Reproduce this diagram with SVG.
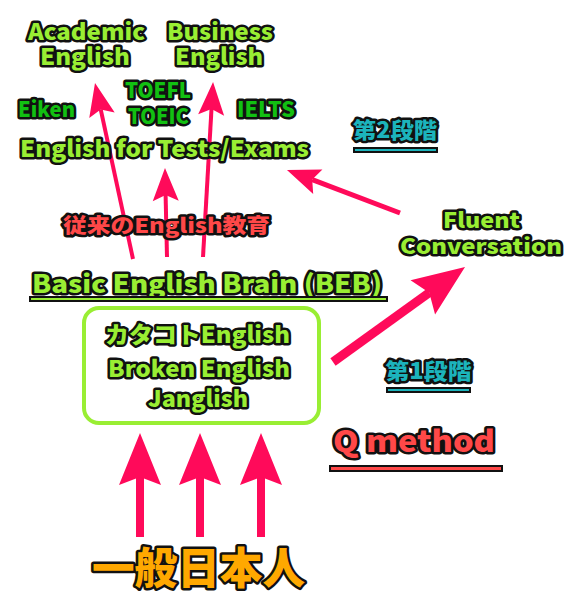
<svg xmlns="http://www.w3.org/2000/svg" width="573" height="599" viewBox="0 0 573 599">
<style>
.t{font-family:"Noto Sans CJK JP","Noto Sans",sans-serif;font-weight:900;stroke:#111;stroke-width:5;stroke-linejoin:round;paint-order:stroke;text-anchor:middle}
.lime{fill:#99ee33}
.dg{fill:#12c012}
.red{fill:#ff4848}
.teal{fill:#1cb4bc}
.orange{fill:#ffa800}
.arr{stroke:#ff0a5a;fill:none;stroke-linecap:butt}
</style>
<defs>
<marker id="hs" markerUnits="userSpaceOnUse" orient="auto" refX="0" refY="0" markerWidth="40" markerHeight="30" overflow="visible">
<path d="M-6,-13 L27,0 L-6,13 L0,0 Z" fill="#ff0a5a"/>
</marker>
<marker id="hl" markerUnits="userSpaceOnUse" orient="auto" refX="0" refY="0" markerWidth="60" markerHeight="50" overflow="visible">
<path d="M-8,-21 L44,0 L-8,21 L0,0 Z" fill="#ff0a5a"/>
</marker>
</defs>
<rect width="573" height="599" fill="#ffffff"/>

<g id="connectors">
<line class="arr" x1="133" y1="259" x2="100.7" y2="109.4" stroke-width="4" marker-end="url(#hs)"/>
<line class="arr" x1="167" y1="257" x2="165.6" y2="195" stroke-width="4" marker-end="url(#hs)"/>
<line class="arr" x1="203" y1="257" x2="211.5" y2="108.9" stroke-width="4" marker-end="url(#hs)"/>
<line class="arr" x1="400" y1="213" x2="312.2" y2="179.6" stroke-width="5" marker-end="url(#hs)"/>
<line class="arr" x1="333" y1="362" x2="429.3" y2="292.7" stroke-width="9" marker-end="url(#hl)"/>
<line class="arr" x1="140" y1="537" x2="140" y2="477" stroke-width="8" marker-end="url(#hl)"/>
<line class="arr" x1="200" y1="537" x2="200" y2="477" stroke-width="8" marker-end="url(#hl)"/>
<line class="arr" x1="261" y1="537" x2="261" y2="477" stroke-width="8" marker-end="url(#hl)"/>
</g>

<g id="academic">
<text class="t lime" x="86.5" y="40" font-size="23" textLength="117" lengthAdjust="spacingAndGlyphs">Academic</text>
<text class="t lime" x="85" y="65" font-size="23" textLength="90" lengthAdjust="spacingAndGlyphs">English</text>
</g>
<g id="business">
<text class="t lime" x="220" y="40" font-size="23" textLength="106" lengthAdjust="spacingAndGlyphs">Business</text>
<text class="t lime" x="219" y="65" font-size="23" textLength="88" lengthAdjust="spacingAndGlyphs">English</text>
</g>
<g id="toefl-toeic">
<text class="t dg" x="158" y="98" font-size="21" textLength="66" lengthAdjust="spacingAndGlyphs">TOEFL</text>
<text class="t dg" x="158.5" y="124" font-size="21" textLength="61" lengthAdjust="spacingAndGlyphs">TOEIC</text>
</g>
<g id="eiken">
<text class="t dg" x="46.5" y="117" font-size="21" textLength="57" lengthAdjust="spacingAndGlyphs">Eiken</text>
</g>
<g id="ielts">
<text class="t dg" x="266" y="117" font-size="21" textLength="58" lengthAdjust="spacingAndGlyphs">IELTS</text>
</g>
<g id="tests">
<text class="t lime" x="164.5" y="157" font-size="23" textLength="289" lengthAdjust="spacingAndGlyphs">English for Tests/Exams</text>
</g>
<g id="stage2">
<text class="t teal" x="395" y="138" font-size="22" textLength="84" lengthAdjust="spacingAndGlyphs">第2段階</text>
<rect x="354" y="148" width="83" height="4" fill="#1cb4bc" stroke="#111" stroke-width="2"/>
</g>
<g id="fluent">
<text class="t lime" x="481.5" y="228" font-size="21" textLength="77" lengthAdjust="spacingAndGlyphs">Fluent</text>
<text class="t lime" x="481" y="254" font-size="21" textLength="162" lengthAdjust="spacingAndGlyphs">Conversation</text>
</g>
<g id="traditional">
<text class="t red" x="166.5" y="233" font-size="20" textLength="207" lengthAdjust="spacingAndGlyphs">従来のEnglish教育</text>
</g>
<g id="beb">
<text class="t lime" x="207" y="293" font-size="25" textLength="350" lengthAdjust="spacingAndGlyphs">Basic English Brain (BEB)</text>
<rect x="30" y="297" width="357" height="4" fill="#99ee33" stroke="#111" stroke-width="2"/>
</g>
<g id="broken">
<rect x="84" y="308" width="235" height="115" rx="15" fill="none" stroke="#99ee33" stroke-width="4"/>
<text class="t lime" x="197.5" y="343" font-size="23" textLength="185" lengthAdjust="spacingAndGlyphs">カタコトEnglish</text>
<text class="t lime" x="199" y="377" font-size="23" textLength="182" lengthAdjust="spacingAndGlyphs">Broken English</text>
<text class="t lime" x="198" y="407" font-size="23" textLength="100" lengthAdjust="spacingAndGlyphs">Janglish</text>
</g>
<g id="stage1">
<text class="t teal" x="428.5" y="379" font-size="22" textLength="86" lengthAdjust="spacingAndGlyphs">第1段階</text>
<rect x="387" y="388" width="83" height="4" fill="#1cb4bc" stroke="#111" stroke-width="2"/>
</g>
<g id="qmethod">
<text class="t red" x="414" y="452" font-size="30" textLength="162" lengthAdjust="spacingAndGlyphs">Q method</text>
<rect x="330" y="466" width="172" height="5" fill="#ff4848" stroke="#111" stroke-width="2"/>
</g>
<g id="japanese">
<text class="t orange" x="198.5" y="584" font-size="43" stroke-width="6" textLength="213" lengthAdjust="spacingAndGlyphs">一般日本人</text>
</g>
</svg>
